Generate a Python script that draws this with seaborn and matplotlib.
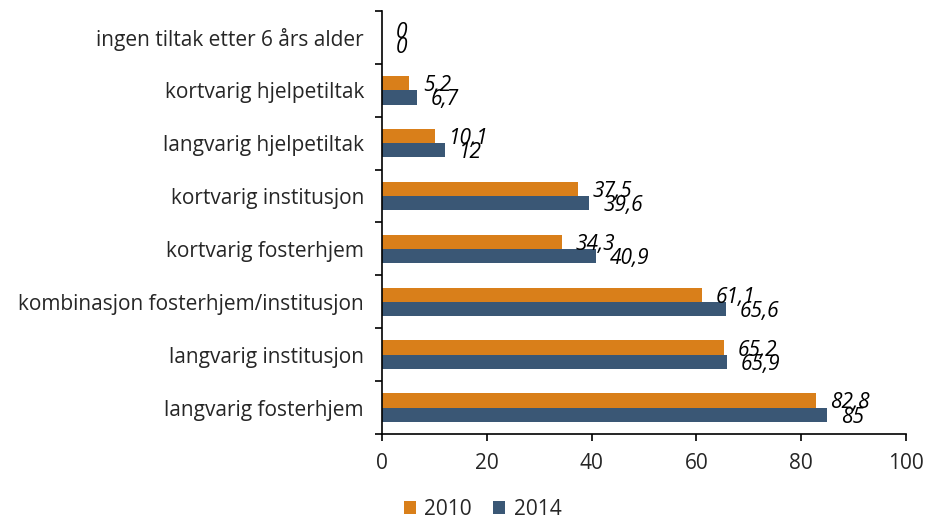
import matplotlib
matplotlib.use("Agg")
import matplotlib.pyplot as plt
import seaborn as sns
import pandas as pd

categories = [
    "ingen tiltak etter 6 års alder",
    "kortvarig hjelpetiltak",
    "langvarig hjelpetiltak",
    "kortvarig institusjon",
    "kortvarig fosterhjem",
    "kombinasjon fosterhjem/institusjon",
    "langvarig institusjon",
    "langvarig fosterhjem",
]
values_2010 = [0, 5.2, 10.1, 37.5, 34.3, 61.1, 65.2, 82.8]
values_2014 = [0, 6.7, 12, 39.6, 40.9, 65.6, 65.9, 85]
years = ["2010", "2014"]
colors = ["#D97F1A", "#3A5775"]

df = pd.DataFrame({
    "kategori": categories * 2,
    "verdi": values_2010 + values_2014,
    "år": [years[0]] * len(categories) + [years[1]] * len(categories),
})

sns.set_style("white")
plt.rcParams["font.family"] = ["Open Sans", "DejaVu Sans"]

fig = plt.figure(figsize=(9.28, 5.29), dpi=100)
ax = fig.add_axes([0.4116, 0.1796, 0.5645, 0.7996])

sns.barplot(data=df, y="kategori", x="verdi", hue="år", order=categories,
            hue_order=years, palette=colors, orient="h", width=0.54,
            ax=ax, legend=True, edgecolor="none", saturation=1)

def fmt(v):
    s = f"{v:g}"
    return s.replace(".", ",")

for cont in ax.containers:
    for bar, v in zip(cont, cont.datavalues):
        y = bar.get_y() + bar.get_height() / 2
        ax.annotate(fmt(v), (bar.get_width(), y), xytext=(10, 0),
                    textcoords="offset points", va="center_baseline", ha="left",
                    fontsize=15, style="italic", color="black")

ax.set_xlim(0, 100)
ax.set_xticks([0, 20, 40, 60, 80, 100])
ax.set_ylim(len(categories) - 0.5, -0.5)
ax.set_yticks([i - 0.5 for i in range(len(categories) + 1)], minor=True)
ax.set_yticks(range(len(categories)))
ax.set_xlabel("")
ax.set_ylabel("")

for s in ["top", "right"]:
    ax.spines[s].set_visible(False)
for s in ["left", "bottom"]:
    ax.spines[s].set_color("black")
    ax.spines[s].set_linewidth(1.2)

ax.tick_params(axis="y", which="major", length=0, labelsize=15, pad=13)
ax.tick_params(axis="y", which="minor", length=5, width=1.2, color="black", left=True)
ax.tick_params(axis="x", length=5, width=1.2, color="black", bottom=True,
               labelsize=15, pad=9, direction="out")

handles, labels = ax.get_legend_handles_labels()
ax.legend_.remove()
fig.legend(handles, labels, loc="lower center", bbox_to_anchor=(0.52, -0.018),
           ncol=2, frameon=False, fontsize=15, handlelength=0.6,
           handleheight=0.6, columnspacing=1.0, handletextpad=0.4)

fig.savefig("out.png", dpi=100)
